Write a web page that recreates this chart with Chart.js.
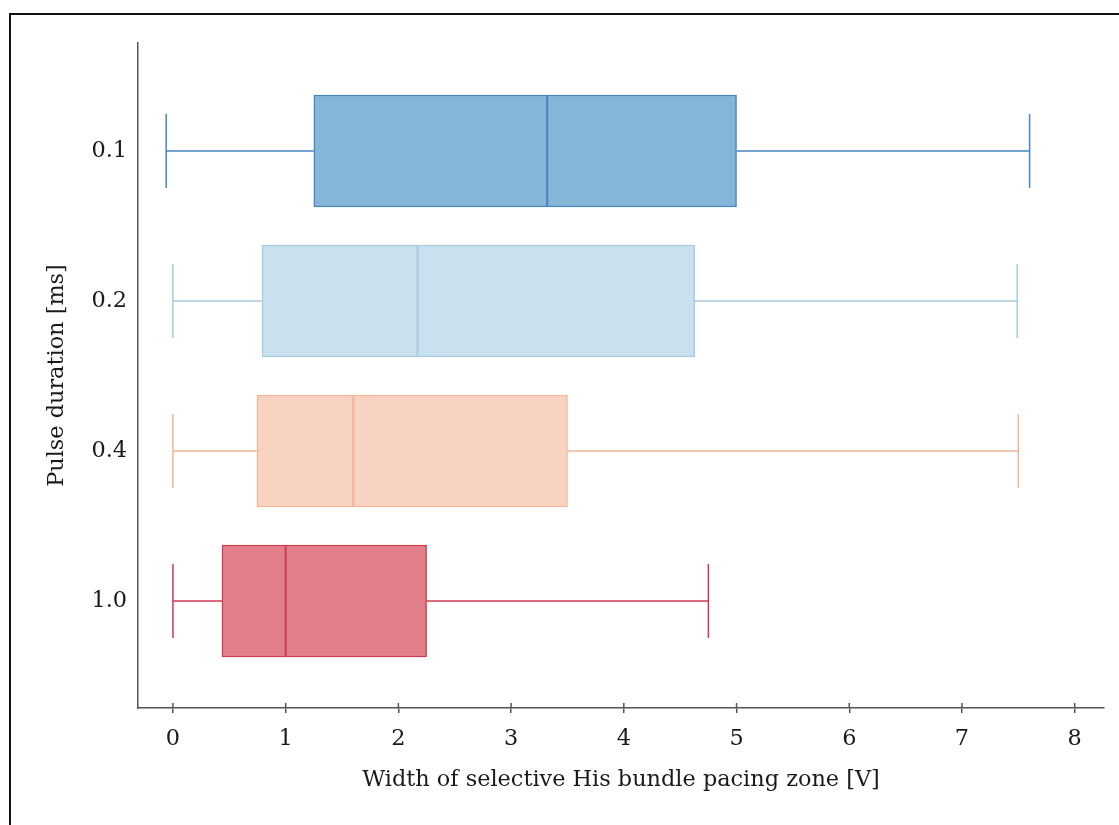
<!DOCTYPE html>
<html><head><meta charset="utf-8">
<script src="https://cdn.jsdelivr.net/npm/chart.js@4/dist/chart.umd.min.js"></script>
<style>
html,body{margin:0;padding:0;background:#fff;}
#wrap{position:relative;width:1119px;height:825px;overflow:hidden;}
#frame{position:absolute;left:9px;top:13px;right:-5px;bottom:-5px;border-top:2px solid #111;border-left:2px solid #111;pointer-events:none;}
canvas{position:absolute;left:0;top:0;}
</style></head><body>
<div id="wrap"><canvas id="c" width="1119" height="825"></canvas><div id="frame"></div></div>
<script>
const categories = ['0.1', '0.2', '0.4', '1.0'];
const whiskerMin = [-0.06, 0, 0, 0];
const q1 = [1.25, 0.79, 0.745, 0.435];
const median = [3.32, 2.17, 1.6, 1.0];
const q3 = [5.0, 4.63, 3.5, 2.25];
const whiskerMax = [7.6, 7.49, 7.5, 4.75];
const xTicks = [0, 1, 2, 3, 4, 5, 6, 7, 8];
const fillColors = ['#85b5d7', '#c9e0ee', '#f8d3c1', '#e1808b'];
const lineColors = ['#4585c0', '#a8cbe3', '#f3b596', '#cf3a52'];

const FONT = 'DejaVu Serif';
const FONT_SIZE = 22.4;
const TEXT_COLOR = '#1a1a1a';
const AXIS_COLOR = '#555';

const boxPlugin = {
  id: 'boxParts',
  afterDatasetsDraw(chart) {
    const ctx = chart.ctx, xs = chart.scales.x, ys = chart.scales.y;
    const meta = chart.getDatasetMeta(0);
    meta.data.forEach((bar, i) => {
      const yc = ys.getPixelForValue(i);
      const h = bar.getProps(['height'], true).height;
      const cap = h * 0.33;
      const half = h / 2;
      ctx.save();
      ctx.strokeStyle = lineColors[i];
      ctx.lineWidth = 1.5;
      const pMin = xs.getPixelForValue(whiskerMin[i]);
      const pQ1 = xs.getPixelForValue(q1[i]);
      const pQ3 = xs.getPixelForValue(q3[i]);
      const pMax = xs.getPixelForValue(whiskerMax[i]);
      ctx.beginPath();
      ctx.moveTo(pMin, yc); ctx.lineTo(pQ1, yc);
      ctx.moveTo(pQ3, yc); ctx.lineTo(pMax, yc);
      ctx.moveTo(pMin, yc - cap); ctx.lineTo(pMin, yc + cap);
      ctx.moveTo(pMax, yc - cap); ctx.lineTo(pMax, yc + cap);
      ctx.stroke();
      ctx.lineWidth = 2;
      const pMed = xs.getPixelForValue(median[i]);
      ctx.beginPath();
      ctx.moveTo(pMed, yc - half); ctx.lineTo(pMed, yc + half);
      ctx.stroke();
      ctx.restore();
    });
  },
  afterDraw(chart) {
    const ctx = chart.ctx, xs = chart.scales.x;
    const b = chart.chartArea.bottom;
    ctx.save();
    ctx.strokeStyle = AXIS_COLOR;
    ctx.lineWidth = 1.5;
    ctx.beginPath();
    xs.ticks.forEach(t => {
      const x = xs.getPixelForValue(t.value);
      ctx.moveTo(x, b - 5); ctx.lineTo(x, b);
    });
    ctx.stroke();
    ctx.restore();
  }
};

new Chart(document.getElementById('c'), {
  type: 'bar',
  data: {
    datasets: [{
      data: categories.map((c, i) => ({ y: i, x: [q1[i], q3[i]] })),
      backgroundColor: fillColors,
      borderColor: lineColors,
      borderWidth: 1.5,
      borderSkipped: false,
      barThickness: 112
    }]
  },
  options: {
    indexAxis: 'y',
    responsive: false,
    animation: false,
    layout: { padding: { left: 0, top: 43, right: 15, bottom: 0 } },
    plugins: { legend: { display: false }, tooltip: { enabled: false } },
    scales: {
      x: {
        type: 'linear',
        position: 'bottom',
        min: -0.31,
        max: 8.26,
        afterBuildTicks: s => { s.ticks = xTicks.map(v => ({ value: v })); },
        afterFit: s => { s.height = 117; },
        grid: { display: true, drawOnChartArea: false, tickLength: 5, color: AXIS_COLOR, lineWidth: 1.5 },
        border: { display: true, color: AXIS_COLOR, width: 1.5 },
        ticks: { padding: 13, color: TEXT_COLOR, font: { family: FONT, size: FONT_SIZE }, maxRotation: 0 },
        title: { display: true, text: 'Width of selective His bundle pacing zone [V]', color: TEXT_COLOR, font: { family: FONT, size: FONT_SIZE }, padding: { top: 0, bottom: 31 } }
      },
      y: {
        type: 'linear',
        reverse: true,
        offset: false,
        min: -0.72,
        max: 3.713,
        afterBuildTicks: s => { s.ticks = categories.map((c, i) => ({ value: i })); },
        afterFit: s => { s.width = 138; },
        grid: { display: false, drawTicks: false, offset: false },
        border: { display: true, color: AXIS_COLOR, width: 1.5 },
        ticks: { padding: 11, color: TEXT_COLOR, font: { family: FONT, size: FONT_SIZE }, callback: v => categories[Math.round(v)] },
        title: { display: true, text: 'Pulse duration [ms]', color: TEXT_COLOR, font: { family: FONT, size: FONT_SIZE }, padding: { top: 44, bottom: 0 } }
      }
    }
  },
  plugins: [boxPlugin]
});
</script>
</body></html>
